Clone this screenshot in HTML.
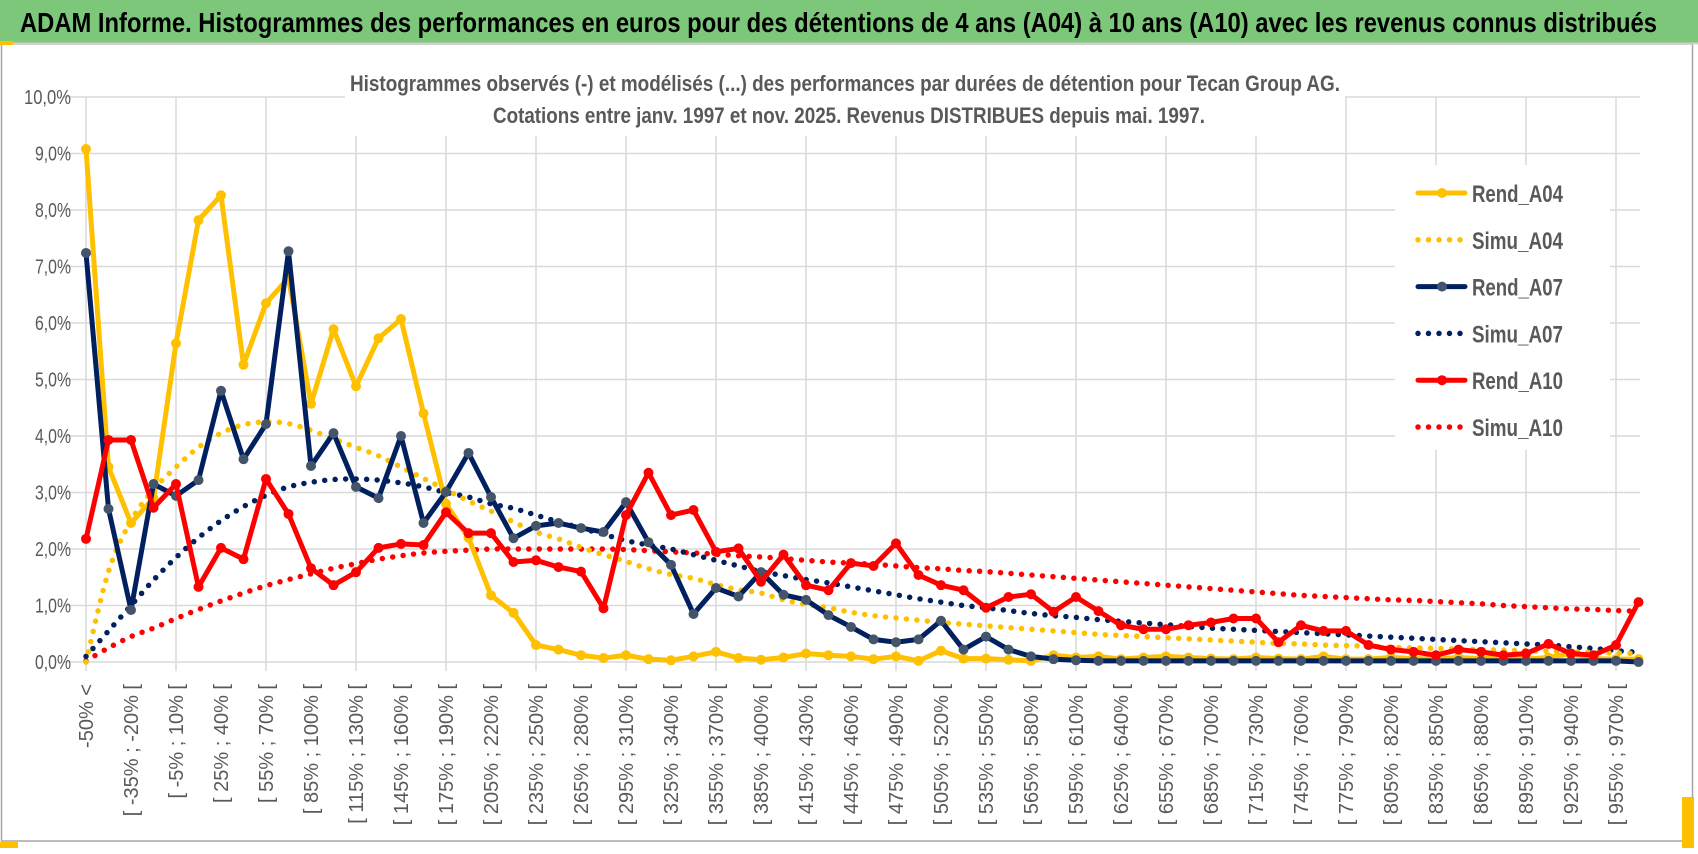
<!DOCTYPE html>
<html><head><meta charset="utf-8">
<style>
html,body{margin:0;padding:0;background:#fff;}
body{width:1698px;height:854px;overflow:hidden;position:relative;font-family:"Liberation Sans Narrow","Liberation Sans",sans-serif;}
svg{position:absolute;left:0;top:0;}
</style></head>
<body>
<svg id="chart" width="1698" height="854" xmlns="http://www.w3.org/2000/svg"></svg>
<script>
const yTicks=[0,1,2,3,4,5,6,7,8,9,10];
const yTickLabels=["0,0%","1,0%","2,0%","3,0%","4,0%","5,0%","6,0%","7,0%","8,0%","9,0%","10,0%"];
const categoryStarts=[-50,-35,-20,-5,10,25,40,55,70,85,100,115,130,145,160,175,190,205,220,235,250,265,280,295,310,325,340,355,370,385,400,415,430,445,460,475,490,505,520,535,550,565,580,595,610,625,640,655,670,685,700,715,730,745,760,775,790,805,820,835,850,865,880,895,910,925,940,955,970];
const rendA04=[9.08,3.45,2.46,2.9,5.64,7.82,8.26,5.26,6.35,6.8,4.57,5.89,4.88,5.73,6.07,4.4,2.8,2.2,1.18,0.87,0.3,0.22,0.12,0.07,0.12,0.05,0.03,0.1,0.18,0.07,0.04,0.08,0.15,0.12,0.1,0.05,0.1,0.02,0.2,0.06,0.06,0.04,0.02,0.12,0.08,0.1,0.05,0.08,0.1,0.08,0.06,0.05,0.08,0.06,0.05,0.1,0.05,0.05,0.08,0.06,0.05,0.08,0.06,0.1,0.05,0.08,0.15,0.06,0.05,0.05];
const simuA04=[0.0,1.6,2.5,3.05,3.45,3.8,4.05,4.2,4.25,4.22,4.1,3.95,3.8,3.65,3.45,3.25,3.05,2.85,2.67,2.48,2.3,2.18,2.03,1.9,1.78,1.65,1.55,1.48,1.37,1.28,1.22,1.1,1.02,0.96,0.88,0.82,0.78,0.74,0.7,0.67,0.64,0.61,0.58,0.55,0.52,0.49,0.47,0.45,0.43,0.41,0.39,0.37,0.35,0.33,0.32,0.3,0.29,0.28,0.26,0.25,0.24,0.23,0.22,0.21,0.2,0.19,0.18,0.17,0.16,0.15];
const rendA07=[7.24,2.71,0.92,3.15,2.94,3.22,4.8,3.59,4.21,7.27,3.47,4.05,3.1,2.9,4.0,2.46,3.01,3.7,2.92,2.19,2.41,2.46,2.37,2.3,2.83,2.12,1.72,0.85,1.31,1.16,1.59,1.19,1.1,0.83,0.62,0.4,0.35,0.4,0.73,0.22,0.45,0.22,0.1,0.05,0.03,0.02,0.02,0.02,0.02,0.02,0.02,0.02,0.02,0.02,0.02,0.02,0.02,0.02,0.02,0.02,0.02,0.02,0.02,0.02,0.02,0.02,0.02,0.02,0.02,0.0];
const simuA07=[0.1,0.55,1.0,1.45,1.85,2.2,2.5,2.75,2.95,3.1,3.18,3.23,3.24,3.22,3.17,3.1,3.0,2.92,2.8,2.72,2.6,2.48,2.37,2.26,2.15,2.07,2.0,1.9,1.8,1.7,1.6,1.53,1.46,1.4,1.33,1.26,1.19,1.12,1.06,1.0,0.96,0.91,0.86,0.82,0.79,0.75,0.72,0.69,0.66,0.63,0.6,0.58,0.56,0.54,0.52,0.5,0.48,0.46,0.44,0.42,0.4,0.38,0.36,0.34,0.32,0.3,0.27,0.24,0.2,0.17];
const rendA10=[2.18,3.93,3.93,2.73,3.15,1.33,2.02,1.82,3.24,2.62,1.66,1.36,1.59,2.02,2.09,2.07,2.65,2.28,2.28,1.77,1.8,1.68,1.6,0.95,2.6,3.35,2.6,2.69,1.95,2.01,1.42,1.9,1.36,1.27,1.75,1.7,2.1,1.54,1.36,1.27,0.96,1.15,1.2,0.89,1.15,0.9,0.65,0.58,0.58,0.65,0.7,0.77,0.77,0.35,0.65,0.55,0.55,0.3,0.22,0.18,0.12,0.22,0.18,0.12,0.15,0.32,0.15,0.12,0.3,1.06];
const simuA10=[0.02,0.25,0.45,0.6,0.77,0.93,1.08,1.22,1.35,1.46,1.56,1.66,1.74,1.82,1.88,1.93,1.96,1.98,2.0,2.0,2.0,2.0,2.0,2.0,1.99,1.97,1.95,1.93,1.91,1.88,1.86,1.83,1.8,1.77,1.75,1.73,1.7,1.67,1.65,1.62,1.6,1.57,1.54,1.51,1.48,1.45,1.42,1.39,1.36,1.33,1.3,1.27,1.24,1.21,1.18,1.16,1.14,1.12,1.1,1.09,1.07,1.05,1.03,1.0,0.98,0.96,0.94,0.93,0.91,0.9];

const NS="http://www.w3.org/2000/svg";
const svg=document.getElementById('chart');
const X0=86, DX=22.5, Y0=662, DY=56.5;
const xs=i=>X0+i*DX;
const ys=v=>Y0-v*DY;
function mk(tag,attrs,parent){const e=document.createElementNS(NS,tag);for(const k in attrs)e.setAttribute(k,attrs[k]);(parent||svg).appendChild(e);return e;}

let e=mk('rect',{x:0,y:0,width:1698,height:854,fill:'#fff'});


e=mk('rect',{x:1.5,y:44,width:1691,height:797,fill:'none',stroke:'#a6a6a6','stroke-width':1.5});


e=mk('rect',{x:1682,y:797,width:12,height:51,fill:'#FFC000'});


e=mk('rect',{x:0,y:842,width:18,height:6,fill:'#FFC000'});



const gGrid=mk('g',{});


yTicks.forEach(v=>{const l=mk('line',{x1:64,x2:1640,y1:ys(v),y2:ys(v),stroke:'#d9d9d9','stroke-width':1.5},gGrid);

});
for(let i=0;i<categoryStarts.length+1;i+=4){const l=mk('line',{x1:xs(i),x2:xs(i),y1:ys(10),y2:Y0+9,stroke:'#d9d9d9','stroke-width':1.5},gGrid);

}

yTicks.forEach((v,k)=>{const t=mk('text',{x:71,y:ys(v)+7,'text-anchor':'end','font-size':20,fill:'#595959',textLength:v===10?47:36,lengthAdjust:'spacingAndGlyphs'});t.textContent=yTickLabels[k];

});

const nCat=categoryStarts.length+1;
for(let i=0;i<nCat;i+=2){
  const txt=i===0?'-50% <':'[ '+categoryStarts[i-1]+'% ; '+(categoryStarts[i-1]+15)+'% [';
  const t=mk('text',{x:0,y:0,'text-anchor':'end','font-size':20,fill:'#595959','font-family':'Liberation Sans, sans-serif',transform:`translate(${xs(i)+7},684) rotate(-90)`});
  t.textContent=txt;
  
  
}

function smoothPath(arr){
  const p=arr.map((v,i)=>[xs(i),ys(v)]);
  let d=`M${p[0][0]},${p[0][1]}`;
  for(let i=0;i<p.length-1;i++){
    const a=p[Math.max(0,i-1)],b=p[i],c=p[i+1],dd=p[Math.min(p.length-1,i+2)];
    const c1=[b[0]+(c[0]-a[0])/6,b[1]+(c[1]-a[1])/6],c2=[c[0]-(dd[0]-b[0])/6,c[1]-(dd[1]-b[1])/6];
    d+=` C${c1[0]},${c1[1]} ${c2[0]},${c2[1]} ${c[0]},${c[1]}`;
  }
  return d;
}
function simu(arr,color,name){
  const p=mk('path',{d:smoothPath(arr),fill:'none',stroke:color,'stroke-width':5.5,'stroke-linecap':'round','stroke-dasharray':'0 10.5'});
  
  
}
function rend(arr,color,mcolor,name){
  const g=mk('g',{});
  
  
  const pl=mk('polyline',{points:arr.map((v,i)=>xs(i)+','+ys(v)).join(' '),fill:'none',stroke:color,'stroke-width':5,'stroke-linejoin':'round'},g);
  
  
  arr.forEach((v,i)=>{const c=mk('circle',{cx:xs(i),cy:ys(v),r:5,fill:mcolor},g);
  
  });
}
simu(simuA10,'#FF0000','simu-a10-series');
simu(simuA07,'#002060','simu-a07-series');
simu(simuA04,'#FFC000','simu-a04-series');
rend(rendA04,'#FFC000','#FFC000','rend-a04-series');
rend(rendA07,'#002060','#44546A','rend-a07-series');
rend(rendA10,'#FF0000','#FF0000','rend-a10-series');

const leg=mk('g',{});


mk('rect',{x:1395,y:165,width:215,height:285,fill:'#fff'},leg);
const legendNames=['Rend_A04','Simu_A04','Rend_A07','Simu_A07','Rend_A10','Simu_A10'];
const legendColors=['#FFC000','#FFC000','#002060','#002060','#FF0000','#FF0000'];
legendNames.forEach((n,k)=>{
  const y=193+k*46.8;
  const ent=mk('g',{},leg);
  
  
  if(k%2===0){
    mk('line',{x1:1418,x2:1465,y1:y,y2:y,stroke:legendColors[k],'stroke-width':5,'stroke-linecap':'round'},ent);
    mk('circle',{cx:1442,cy:y,r:5,fill:k===2?'#44546A':legendColors[k]},ent);
  } else {
    mk('line',{x1:1418,x2:1466,y1:y,y2:y,stroke:legendColors[k],'stroke-width':5.5,'stroke-linecap':'round','stroke-dasharray':'0 10.5'},ent);
  }
  const t=mk('text',{x:1472,y:y+9,'font-size':24,'font-weight':'bold',fill:'#595959',textLength:91,lengthAdjust:'spacingAndGlyphs'},ent);
  t.textContent=n;
});

const ct=mk('g',{});


mk('rect',{x:345,y:58,width:1000,height:78,fill:'#fff'},ct);
let t1=mk('text',{x:350,y:91,'font-size':22,'font-weight':'bold',fill:'#595959',textLength:990,lengthAdjust:'spacingAndGlyphs'},ct);
t1.textContent='Histogrammes observés (-) et modélisés (...) des performances par durées de détention pour Tecan Group AG.';
let t2=mk('text',{x:493,y:123,'font-size':22,'font-weight':'bold',fill:'#595959',textLength:712,lengthAdjust:'spacingAndGlyphs'},ct);
t2.textContent='Cotations entre janv. 1997 et nov. 2025. Revenus DISTRIBUES depuis mai. 1997.';

const hb=mk('g',{});


mk('rect',{x:0,y:0,width:1698,height:43,fill:'#7DC77B'},hb);
mk('line',{x1:0,x2:1698,y1:43.5,y2:43.5,stroke:'#d0d0d0','stroke-width':2},hb);
mk('rect',{x:0,y:41,width:13,height:4,fill:'#FFC000'},hb);
let ht=mk('text',{x:20,y:32,'font-size':28,'font-weight':'bold',fill:'#000',textLength:1637,lengthAdjust:'spacingAndGlyphs'},hb);
ht.textContent='ADAM Informe. Histogrammes des performances en euros pour des détentions de 4 ans (A04) à 10 ans (A10) avec les revenus connus distribués';


</script>
</body></html>
